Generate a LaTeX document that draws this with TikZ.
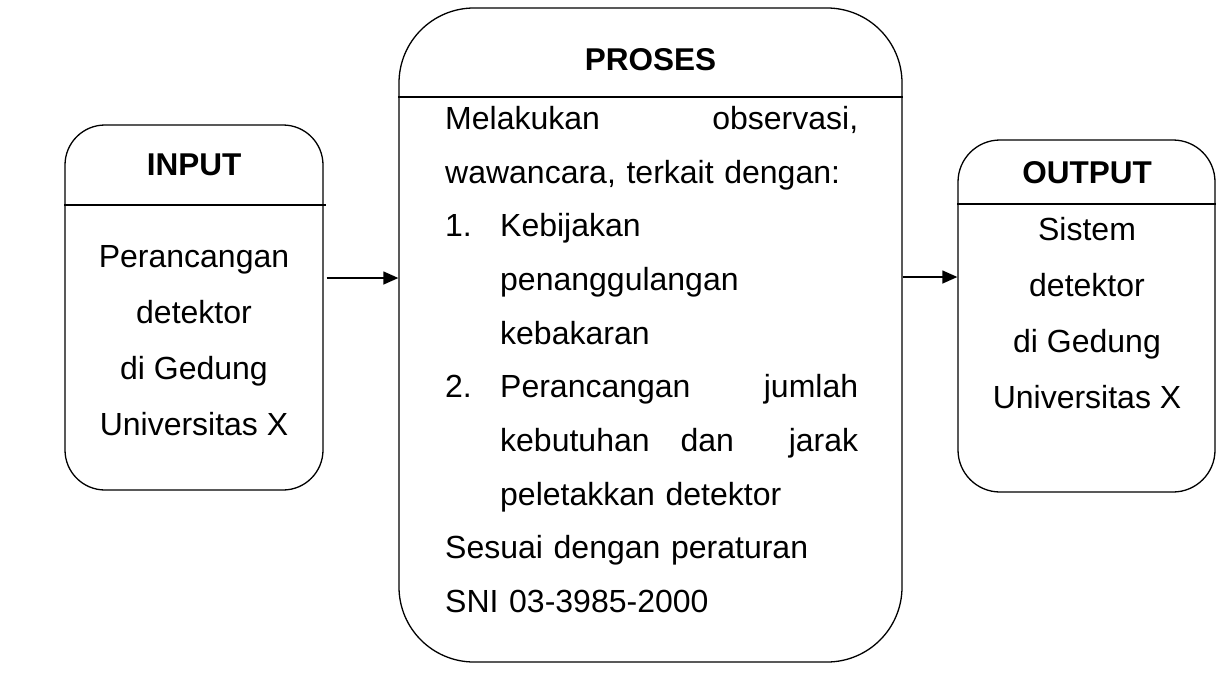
\documentclass[tikz,border=0pt]{standalone}
\usepackage{fontspec}
\setmainfont{Liberation Sans}
\usetikzlibrary{arrows.meta}
\tikzset{
  boxshape/.style={draw, line width=1.3pt, inner sep=0pt},
  titletext/.style={font=\fontsize{31.5}{37}\selectfont\bfseries, inner sep=0pt},
  sidetext/.style={font=\fontsize{32}{56}\selectfont, align=center, inner sep=0pt},
  divider/.style={line width=1.3pt},
  flow/.style={line width=1.3pt, -{Triangle[length=15pt,width=13pt]}}
}
\begin{document}
\begin{tikzpicture}[x=1pt,y=-1pt]
\useasboundingbox (0,0) rectangle (1223,673);
% boxes
\node[boxshape, rounded corners=40pt, minimum width=258pt, minimum height=365pt] (in) at (194,307.5) {};
\node[boxshape, rounded corners=75pt, minimum width=503pt, minimum height=654pt] (pr) at (650.5,335) {};
\node[boxshape, rounded corners=42pt, minimum width=257pt, minimum height=352pt] (out) at (1086.5,316) {};
% dividers
\draw[divider] (in.west |- 0,205) -- ([xshift=2pt]in.east |- 0,205);
\draw[divider] (pr.west |- 0,97) -- (pr.east |- 0,97);
\draw[divider] (out.west |- 0,204) -- (out.east |- 0,204);
% titles
\node[titletext] (int) at (194,165) {INPUT};
\node[titletext] (prt) at (650.5,60) {PROSES};
\node[titletext] (outt) at (1087,173) {OUTPUT};
% texts
\node[sidetext] (inb) at (194,340.5) {Perancangan\\detektor\\di Gedung\\Universitas X};
\node[sidetext] (outb) at (1087,313) {Sistem\\detektor\\di Gedung\\Universitas X};
\node[anchor=north west, inner sep=0pt, text width=413pt, align=left,
      font=\fontsize{32}{53.7}\selectfont] (prb) at (445,106) {%
\makebox[413pt][l]{Melakukan\hfill observasi,}\\
wawancara, terkait dengan:\\
\makebox[55pt][l]{1.}Kebijakan\\
\hspace*{55pt}penanggulangan\\
\hspace*{55pt}kebakaran\\
\makebox[55pt][l]{2.}\makebox[358pt][l]{Perancangan\hfill jumlah}\\
\hspace*{55pt}\makebox[358pt][l]{kebutuhan\hspace{31pt}dan\hfill jarak}\\
\hspace*{55pt}peletakkan detektor\\
Sesuai dengan peraturan\\
SNI 03-3985-2000};
% arrows
\draw[flow] ([xshift=3pt]in.east |- 0,278) -- (pr.west |- 0,278);
\draw[flow] (pr.east |- 0,277) -- (out.west |- 0,277);
\end{tikzpicture}
\end{document}
